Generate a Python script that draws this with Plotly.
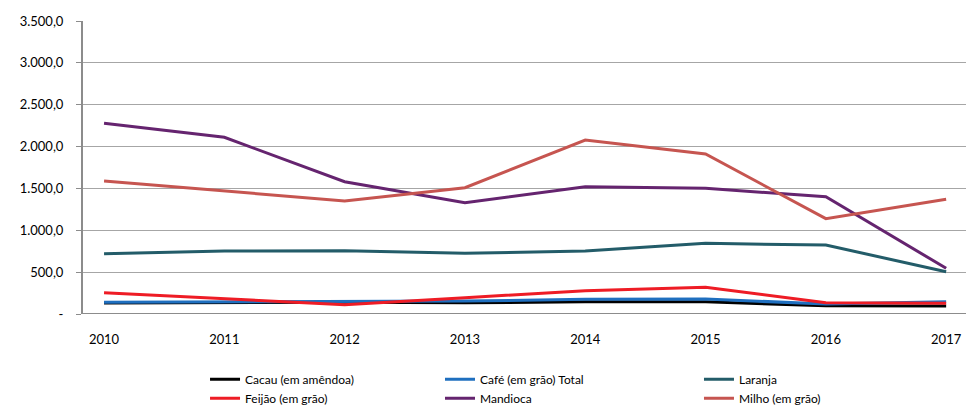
import plotly.graph_objects as go

years = [2010, 2011, 2012, 2013, 2014, 2015, 2016, 2017]
cacau = [130, 135, 140, 135, 145, 145, 100, 95]
cafe = [139, 147, 150, 155, 175, 179, 119, 147]
laranja = [721, 753, 756, 725, 753, 844, 824, 505]
feijao = [255, 187, 111, 195, 278, 319, 135, 128]
mandioca = [2278, 2111, 1580, 1330, 1521, 1501, 1401, 546]
milho = [1589, 1473, 1350, 1509, 2078, 1911, 1139, 1370]

y_tickvals = [0, 500, 1000, 1500, 2000, 2500, 3000, 3500]
y_ticktext = ["-", "500,0", "1.000,0", "1.500,0", "2.000,0", "2.500,0", "3.000,0", "3.500,0"]

series = [
    ("Cacau (em amêndoa)", cacau, "#000000", "legend"),
    ("Café (em grão) Total", cafe, "#1f6fbf", "legend2"),
    ("Laranja", laranja, "#235c69", "legend3"),
    ("Feijão (em grão)", feijao, "#ee1c25", "legend"),
    ("Mandioca", mandioca, "#65246f", "legend2"),
    ("Milho (em grão)", milho, "#c65550", "legend3"),
]

FONT = "Lato, 'Open Sans', sans-serif"

fig = go.Figure()
for name, vals, color, leg in series:
    fig.add_trace(go.Scatter(
        x=years, y=vals, name=name, mode="lines",
        line=dict(color=color, width=3),
        legend=leg,
    ))

legend_common = dict(
    orientation="v", xanchor="left", yanchor="top",
    font=dict(family=FONT, size=12, color="#000000"),
    bgcolor="rgba(0,0,0,0)", borderwidth=0, tracegroupgap=0,
)

fig.update_layout(
    width=969, height=408,
    margin=dict(l=83, r=3, t=21, b=94, autoexpand=False),
    paper_bgcolor="white", plot_bgcolor="white",
    font=dict(family=FONT, size=13, color="#000000"),
    showlegend=True,
    legend=dict(x=0.1382, y=-0.1735, **legend_common),
    legend2=dict(x=0.4043, y=-0.1735, **legend_common),
    legend3=dict(x=0.6976, y=-0.1735, **legend_common),
    xaxis=dict(
        range=[2009.825, 2017.165],
        tickvals=years, ticktext=[str(y) for y in years],
        showgrid=False, zeroline=False, automargin=False,
        showline=False, ticks="", ticklabelstandoff=16,
        tickfont=dict(family=FONT, size=13, color="#000000"),
    ),
    yaxis=dict(
        range=[0, 3500],
        tickvals=y_tickvals, ticktext=y_ticktext,
        showgrid=True, gridcolor="#a6a6a6", gridwidth=1,
        zeroline=False, automargin=False,
        showline=True, linecolor="#8c8c8c", linewidth=2,
        ticks="outside", ticklen=5, tickcolor="#8c8c8c", tickwidth=1,
        ticklabelstandoff=10,
        tickfont=dict(family=FONT, size=13, color="#000000"),
    ),
)

fig.add_shape(type="line", xref="paper", yref="y", x0=0, x1=1, y0=0, y1=0,
              line=dict(color="#8c8c8c", width=2), layer="below")

fig.write_html(
    "out.html",
    config={"displayModeBar": False},
    post_script="document.body.style.margin='0';document.body.style.overflow='hidden';",
)
